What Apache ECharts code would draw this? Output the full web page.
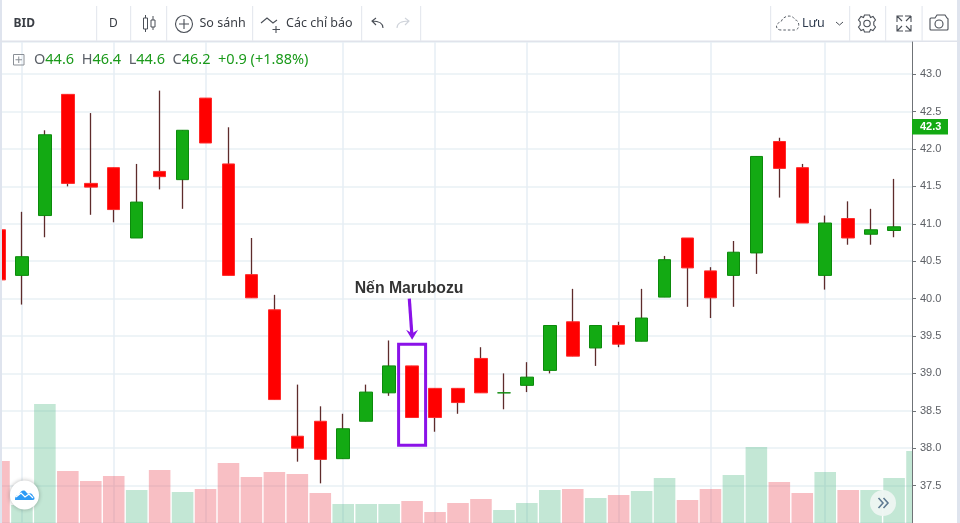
<!DOCTYPE html>
<html><head><meta charset="utf-8">
<style>html,body{margin:0;padding:0;background:#fff}#c{width:960px;height:523px}</style>
<script src="https://cdn.jsdelivr.net/npm/echarts@6/dist/echarts.min.js"></script>
</head><body><div id="c"></div>
<script>
const opens  = [40.92,40.31,41.11,42.73,41.54,41.75,40.81,41.70,41.59,42.68,41.80,40.32,39.85,38.16,38.36,37.86,38.36,38.74,39.10,38.80,38.80,39.20,38.74,38.84,39.04,39.69,39.34,39.64,39.43,40.02,40.81,40.37,40.31,40.61,42.10,41.75,40.31,41.07,40.86,40.91];
const closes = [40.25,40.56,42.19,41.54,41.49,41.19,41.29,41.63,42.25,42.08,40.31,40.01,38.65,38.00,37.85,38.26,38.75,39.10,38.41,38.41,38.61,38.74,38.74,38.95,39.64,39.23,39.64,39.39,39.74,40.52,40.41,40.01,40.62,41.90,41.74,41.01,41.01,40.81,40.92,40.96];
const lows   = [40.25,39.92,40.82,41.50,41.12,41.02,40.81,41.46,41.20,42.08,40.31,40.01,38.65,37.82,37.53,37.86,38.36,38.70,38.41,38.22,38.46,38.74,38.52,38.75,39.00,39.23,39.10,39.35,39.43,40.02,39.89,39.74,39.89,40.33,41.35,41.01,40.12,40.72,40.72,40.82];
const highs  = [40.92,41.16,42.25,42.73,42.48,41.75,41.80,42.78,42.25,42.68,42.29,40.81,40.05,38.85,38.56,38.46,38.85,39.44,39.10,38.80,38.80,39.35,39.00,39.15,39.64,40.13,39.64,39.69,40.13,40.57,40.81,40.42,40.77,41.90,42.15,41.80,41.11,41.30,41.20,41.60];
const volumes = [62,18,119,52,42,47,33,53,31,34,60,46,51,49,30,19,19,19,22,11,20,24,13,20,33,34,25,28,32,45,23,34,48,76,41,30,51,33,33,45,72];
const volumeSides = ['d','u','u','d','d','d','u','d','u','d','d','d','d','d','d','u','u','u','d','d','d','d','u','u','u','d','u','d','u','u','d','d','u','u','d','d','u','d','u','u','u'];
const categories = volumes.map((_, i) => String(i));
const gridMarks = ['1','5','9','15','19','23','27','31','36'];
const lastPrice = 42.3;
const tickStep = 0.5;

const bodies = opens.map((o, i) => [o, closes[i], Math.min(o, closes[i]), Math.max(o, closes[i])]);
const wicks = opens.map((o, i) => [o, closes[i], lows[i], highs[i]]);

const G = '#13aa13', GB = '#0c8a0c', R = '#ff0000', RB = '#ff2a2a', WICK = '#5e2b2b';
const chart = echarts.init(document.getElementById('c'), null, {renderer: 'canvas'});
const priceAxisBase = {type: 'value', min: 37, max: 43.43, interval: tickStep, gridIndex: 0, scale: true};

chart.setOption({
  animation: false,
  backgroundColor: '#ffffff',
  grid: {left: -12.5, width: 941, top: 42, bottom: 0, containLabel: false, outerBoundsMode: 'none'},
  xAxis: {
    type: 'category', data: categories, boundaryGap: true,
    axisLine: {show: false}, axisTick: {show: false}, axisLabel: {show: false},
    splitLine: {show: true, alignWithLabel: true, interval: i => gridMarks.includes(String(i)),
      lineStyle: {color: '#e6eef4', width: 1.5}}
  },
  yAxis: [
    Object.assign({}, priceAxisBase, {axisLine: {show: false}, axisTick: {show: false}, axisLabel: {show: false},
      splitLine: {show: true, lineStyle: {color: '#e9f0f5', width: 1.5}}}),
    {type: 'value', min: 0, max: 481, axisLine: {show: false}, axisTick: {show: false}, axisLabel: {show: false}, splitLine: {show: false}},
    Object.assign({}, priceAxisBase, {position: 'right', offset: -16.5, zlevel: 2,
      axisLine: {show: true, onZero: false, lineStyle: {color: '#6f7377', width: 1}},
      axisTick: {show: true, length: 4, lineStyle: {color: '#6f7377'}},
      axisLabel: {show: true, margin: 8, color: '#5d6066', fontSize: 11, fontFamily: 'Liberation Sans',
        showMinLabel: false, showMaxLabel: false, formatter: v => v.toFixed(1)},
      splitLine: {show: false}})
  ],
  series: [
    {type: 'bar', yAxisIndex: 1, data: volumes.map((v, i) => ({value: v, itemStyle: {
        color: volumeSides[i] === 'u' ? 'rgba(83,185,135,.35)' : 'rgba(235,77,92,.36)'}})),
      barWidth: '94%', silent: true},
    {type: 'candlestick', yAxisIndex: 0, data: wicks, barWidth: 1, silent: true,
      itemStyle: {color: WICK, color0: WICK, borderColor: WICK, borderColor0: WICK, borderColorDoji: WICK, borderWidth: 1.3}},
    {type: 'candlestick', yAxisIndex: 0, data: bodies, barWidth: 13, silent: true,
      itemStyle: {color: G, color0: R, borderColor: GB, borderColor0: RB, borderColorDoji: GB, borderWidth: 1}}
  ]
});

function el(o) { return Object.assign({silent: true, zlevel: 1}, o); }
function stroke(c, w, extra) { return Object.assign({stroke: c, lineWidth: w, fill: null}, extra || {}); }
let shapeCount = 0;
function pathEl(d, style, z) {
  const name = 'icon' + (shapeCount++);
  echarts.graphic.registerShape(name, echarts.graphic.extendPath(d));
  return el({type: name, style: style, z: z});
}
const LINE = '#e0e3eb', ICON = '#4a4f57';
const UI = '"Noto Sans", sans-serif';
const els = [];
// masks that frame the plot
els.push(el({type: 'rect', shape: {x: 0, y: 0, width: 960, height: 41}, style: {fill: '#fff'}, z: 1}));
els.push(el({type: 'rect', shape: {x: 912, y: 0, width: 48, height: 523}, style: {fill: '#fff'}, z: 1}));
els.push(el({type: 'rect', shape: {x: 0, y: 0, width: 2, height: 523}, style: {fill: '#dfe4ee'}, z: 2}));
els.push(el({type: 'rect', shape: {x: 957, y: 0, width: 3, height: 523}, style: {fill: '#dfe4ee'}, z: 2}));
els.push(el({type: 'rect', shape: {x: 0, y: 40.5, width: 960, height: 1.5}, style: {fill: LINE}, z: 2}));
[96, 130, 166, 252, 361, 420, 770, 849, 885, 921.5].forEach(x =>
  els.push(el({type: 'rect', shape: {x: x, y: 6, width: 1.2, height: 35}, style: {fill: '#e6e9ef'}, z: 2})));
// toolbar text
const tb = (t, x, size, w, color) => el({type: 'text', x: x, y: 23.5, z: 3,
  style: {text: t, fill: color || '#3a3e45', fontSize: size || 13, fontWeight: w || 'normal', fontFamily: UI, verticalAlign: 'middle'}});
els.push(tb('BID', 13.5, 12, 'bold'), tb('D', 109, 12), tb('So sánh', 199.5, 12.5), tb('Các chỉ báo', 286, 12.5), tb('Lưu', 802, 12.5, 'normal', '#2d3a4d'));
// candle icon
els.push(el({type: 'rect', shape: {x: 143.5, y: 18, width: 4, height: 11}, style: stroke(ICON, 1), z: 3}));
els.push(el({type: 'line', shape: {x1: 145.5, y1: 15, x2: 145.5, y2: 18}, style: stroke(ICON, 1), z: 3}));
els.push(el({type: 'line', shape: {x1: 145.5, y1: 29, x2: 145.5, y2: 32}, style: stroke(ICON, 1), z: 3}));
els.push(el({type: 'rect', shape: {x: 151, y: 20, width: 4, height: 7}, style: stroke(ICON, 1), z: 3}));
els.push(el({type: 'line', shape: {x1: 153, y1: 16, x2: 153, y2: 20}, style: stroke(ICON, 1), z: 3}));
els.push(el({type: 'line', shape: {x1: 153, y1: 27, x2: 153, y2: 30}, style: stroke(ICON, 1), z: 3}));
// compare
els.push(el({type: 'circle', shape: {cx: 184, cy: 24, r: 8.5}, style: stroke(ICON, 1.1), z: 3}));
els.push(pathEl('M184 19V29M179 24H189', stroke(ICON, 1.1), 3));
// indicators
els.push(pathEl('M261 23L267 18L273 23L277 20M276 26V33M272.5 29.5H280', stroke(ICON, 1.1), 3));
// undo, redo
els.push(pathEl('M383 28C383 23 379 21 372 21M376 18L372 21L376 25', stroke(ICON, 1.1), 3));
els.push(pathEl('M397 28C397 23 401 21 409 21M405 18L409 21L405 25', stroke('#cfd3da', 1.1), 3));
// cloud
els.push(pathEl('M781 30C775 30 775 23 781 22C783 15 793 14 795 20C800 20 800 30 795 30Z', stroke('#555b64', 1, {lineDash: [2.5, 2]}), 3));
els.push(pathEl('M836 22L839.5 25L843 22', stroke(ICON, 1), 3));
// gear
els.push(el({type: 'circle', shape: {cx: 867, cy: 23.5, r: 3.2}, style: stroke(ICON, 1.1), z: 3}));
els.push(pathEl('M864.5 15H869.5L870.5 17.5L873 16.5L875.5 20L873.8 22V25L875.5 27L873 30.5L870.5 29.5L869.5 32H864.5L863.5 29.5L861 30.5L858.5 27L860.2 25V22L858.5 20L861 16.5L863.5 17.5Z', stroke(ICON, 1.1), 3));
// fullscreen
els.push(pathEl('M897 22V16H903M897 16L902 21M911 16H905M911 16V22M911 16L906 21M897 25V31H903M897 31L902 26M911 25V31H905M911 31L906 26', stroke(ICON, 1.1), 3));
// camera
els.push(pathEl('M931 18H935L937 15H945L947 18Q948 18 948 19V29Q948 30 947 30H931Q930 30 930 29V19Q930 18 931 18', stroke(ICON, 1.1), 3));
els.push(el({type: 'circle', shape: {cx: 939, cy: 24, r: 4}, style: stroke(ICON, 1.1), z: 3}));
// legend row
els.push(el({type: 'rect', shape: {x: 13.5, y: 54.5, width: 10.5, height: 10.5}, style: stroke('#8a8f96', 1), z: 3}));
els.push(pathEl('M18.75 56.5V63M15.5 59.75H22', stroke('#8a8f96', 1), 3));
els.push(el({type: 'text', x: 34, y: 59.5, z: 3, style: {
  text: '{l|O}{v|44.6}  {l|H}{v|46.4}  {l|L}{v|44.6}  {l|C}{v|46.2}  {v|+0.9 (+1.88%)}',
  verticalAlign: 'middle', fontFamily: UI, fontSize: 14.5,
  rich: {l: {fill: '#5b6068', fontSize: 14.5, fontFamily: UI}, v: {fill: '#1b9a1b', fontSize: 14.5, fontFamily: UI}}}}));
// floating buttons
els.push(el({type: 'circle', shape: {cx: 24.5, cy: 495, r: 14.5}, style: {fill: '#fff', shadowBlur: 4, shadowColor: 'rgba(0,0,0,.3)'}, z: 3}));
els.push(pathEl('M15 500C15 496 17 495 19 495C20 491 24 489 26 492L28 494C30 492 33 494 33 496C35 497 35 500 33 500Z', {fill: '#2e9bf5'}, 4));
els.push(pathEl('M16 497L21 493L25 497L29 494L33 498', stroke('#fff', 1.2), 5));
els.push(el({type: 'circle', shape: {cx: 883, cy: 503, r: 13}, style: {fill: 'rgba(238,245,242,.95)'}, z: 3}));
els.push(pathEl('M878.5 498L883 503L878.5 508M883.5 498L888 503L883.5 508', stroke('#5f7a92', 1.6), 4));

// annotation and price tag, positioned from the data through the chart's scales
const at = (i, p) => chart.convertToPixel({xAxisIndex: 0, yAxisIndex: 0}, [String(i), p]);
const PURPLE = '#8a12e8';
const a = at(18, 39.39), b = at(18, 38.04), cx = a[0];
els.push(el({type: 'rect', shape: {x: cx - 13.5, y: a[1], width: 27, height: b[1] - a[1]}, style: stroke(PURPLE, 3), z: 3}));
const tipY = a[1] - 4.5;
els.push(el({type: 'line', shape: {x1: cx - 2.8, y1: tipY - 41, x2: cx - 0.3, y2: tipY - 6}, style: stroke(PURPLE, 3.2), z: 3}));
els.push(el({type: 'polygon', shape: {points: [[cx, tipY], [cx - 6, tipY - 10], [cx, tipY - 6.5], [cx + 6, tipY - 10]]}, style: {fill: PURPLE}, z: 4}));
els.push(el({type: 'text', x: cx - 3, y: tipY - 51, z: 3, style: {text: 'Nến Marubozu', fill: '#333', fontSize: 15.8, fontWeight: 'bold',
  fontFamily: '"Liberation Sans"', align: 'center', verticalAlign: 'middle'}}));
const tag = at(18, lastPrice)[1];
els.push(el({type: 'rect', zlevel: 3, shape: {x: 912, y: tag - 7.5, width: 36, height: 15.5}, style: {fill: G}, z: 3}));
els.push(el({type: 'text', zlevel: 3, x: 920, y: tag + 0.5, z: 4, style: {text: lastPrice.toFixed(1), fill: '#fff', fontSize: 11, fontWeight: 'bold',
  fontFamily: '"Liberation Sans"', verticalAlign: 'middle'}}));
chart.setOption({graphic: {elements: els}});
</script></body></html>
